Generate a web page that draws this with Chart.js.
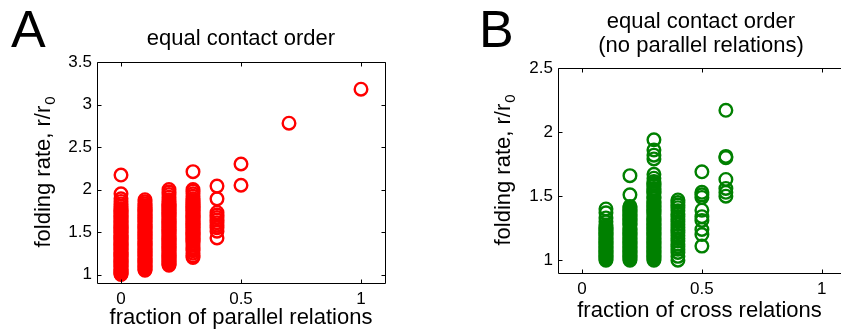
<!DOCTYPE html>
<html>
<head>
<meta charset="utf-8">
<script src="https://cdn.jsdelivr.net/npm/chart.js@4.4.0/dist/chart.umd.min.js"></script>
<style>
html, body { margin: 0; padding: 0; background: #fff; overflow: hidden; width: 841px; height: 331px; }
#wrapA { position: absolute; left: 0; top: 0; width: 420px; height: 331px; }
#wrapB { position: absolute; left: 420px; top: 0; width: 421px; height: 331px; }
</style>
</head>
<body>
<div id="wrapA"><canvas id="chartA" width="420" height="331"></canvas></div>
<div id="wrapB"><canvas id="chartB" width="421" height="331"></canvas></div>
<script>
// tick labels
const xTicks = [0, 0.5, 1];
const yTicksA = [1, 1.5, 2, 2.5, 3, 3.5];
const yTicksB = [1, 1.5, 2, 2.5];

// panel A : fraction of parallel relations -> folding rate (red)
const xColsA = [0, 0.1, 0.2, 0.3, 0.4, 0.5, 0.7, 1];
const rateA0 = [1.00, 1.01, 1.02, 1.035, 1.05, 1.06, 1.075, 1.09, 1.10, 1.115, 1.13, 1.14, 1.155, 1.17, 1.18, 1.195, 1.21, 1.22, 1.235, 1.25, 1.26, 1.275, 1.29, 1.30, 1.315, 1.33, 1.34, 1.355, 1.37, 1.38, 1.395, 1.41, 1.42, 1.435, 1.45, 1.46, 1.475, 1.49, 1.50, 1.515, 1.53, 1.54, 1.555, 1.57, 1.58, 1.595, 1.61, 1.625, 1.64, 1.655, 1.67, 1.685, 1.70, 1.715, 1.73, 1.745, 1.76, 1.775, 1.80, 1.83, 1.86, 1.89, 1.95, 2.17];
const rateA1 = [1.05, 1.06, 1.07, 1.085, 1.10, 1.11, 1.125, 1.14, 1.15, 1.165, 1.18, 1.19, 1.205, 1.22, 1.23, 1.245, 1.26, 1.27, 1.285, 1.30, 1.31, 1.325, 1.34, 1.35, 1.365, 1.38, 1.39, 1.405, 1.42, 1.43, 1.445, 1.46, 1.47, 1.485, 1.50, 1.51, 1.525, 1.54, 1.55, 1.565, 1.58, 1.59, 1.605, 1.62, 1.63, 1.645, 1.66, 1.67, 1.685, 1.70, 1.71, 1.725, 1.74, 1.75, 1.765, 1.78, 1.795, 1.81, 1.83, 1.855, 1.88];
const rateA2 = [1.11, 1.12, 1.13, 1.145, 1.16, 1.17, 1.185, 1.20, 1.21, 1.225, 1.24, 1.25, 1.265, 1.28, 1.29, 1.305, 1.32, 1.33, 1.345, 1.36, 1.37, 1.385, 1.40, 1.41, 1.425, 1.44, 1.45, 1.465, 1.48, 1.49, 1.505, 1.52, 1.53, 1.545, 1.56, 1.57, 1.585, 1.60, 1.61, 1.625, 1.64, 1.65, 1.665, 1.68, 1.69, 1.705, 1.72, 1.73, 1.745, 1.76, 1.77, 1.785, 1.80, 1.81, 1.825, 1.84, 1.86, 1.88, 1.91, 1.94, 1.97, 2.00];
const rateA3 = [1.20, 1.22, 1.25, 1.28, 1.30, 1.32, 1.345, 1.37, 1.39, 1.40, 1.415, 1.43, 1.44, 1.455, 1.47, 1.48, 1.495, 1.51, 1.52, 1.535, 1.55, 1.56, 1.575, 1.59, 1.60, 1.615, 1.63, 1.64, 1.655, 1.67, 1.68, 1.695, 1.71, 1.72, 1.735, 1.75, 1.76, 1.775, 1.79, 1.80, 1.815, 1.83, 1.84, 1.855, 1.87, 1.89, 1.92, 1.95, 1.98, 2.00, 2.21];
const rateA4 = [2.04, 1.89, 1.73, 1.70, 1.67, 1.64, 1.61, 1.58, 1.55, 1.51, 1.43];
const rateA5 = [2.30, 2.05];
const rateA7 = [2.78];
const rateA10 = [3.18];
const ratesA = [rateA0, rateA1, rateA2, rateA3, rateA4, rateA5, rateA7, rateA10];

// panel B : fraction of cross relations -> folding rate (green)
const xColsB = [0.1, 0.2, 0.3, 0.4, 0.5, 0.6];
const rateB1 = [1.00, 1.01, 1.02, 1.03, 1.04, 1.05, 1.06, 1.07, 1.08, 1.09, 1.10, 1.11, 1.12, 1.13, 1.14, 1.15, 1.16, 1.17, 1.18, 1.19, 1.20, 1.21, 1.22, 1.23, 1.24, 1.25, 1.26, 1.275, 1.30, 1.33, 1.37, 1.40];
const rateB2 = [1.00, 1.01, 1.02, 1.03, 1.04, 1.05, 1.06, 1.07, 1.08, 1.09, 1.10, 1.11, 1.12, 1.13, 1.14, 1.15, 1.16, 1.17, 1.18, 1.19, 1.20, 1.21, 1.22, 1.23, 1.24, 1.25, 1.27, 1.28, 1.29, 1.30, 1.31, 1.32, 1.33, 1.34, 1.35, 1.36, 1.37, 1.38, 1.39, 1.40, 1.41, 1.42, 1.51, 1.66];
const rateB3 = [1.00, 1.01, 1.02, 1.03, 1.04, 1.05, 1.06, 1.07, 1.08, 1.09, 1.10, 1.11, 1.12, 1.13, 1.14, 1.15, 1.16, 1.17, 1.18, 1.19, 1.20, 1.21, 1.22, 1.23, 1.24, 1.25, 1.26, 1.27, 1.28, 1.29, 1.30, 1.31, 1.32, 1.33, 1.34, 1.36, 1.37, 1.38, 1.39, 1.40, 1.41, 1.42, 1.43, 1.44, 1.45, 1.46, 1.48, 1.49, 1.50, 1.52, 1.53, 1.54, 1.55, 1.56, 1.58, 1.59, 1.60, 1.615, 1.64, 1.67, 1.79, 1.82, 1.86, 1.94];
const rateB4 = [1.47, 1.45, 1.43, 1.41, 1.385, 1.36, 1.34, 1.32, 1.30, 1.28, 1.255, 1.235, 1.215, 1.19, 1.17, 1.15, 1.125, 1.105, 1.085, 1.06, 1.03, 1.00];
const rateB5 = [1.69, 1.53, 1.51, 1.49, 1.39, 1.34, 1.31, 1.24, 1.20, 1.11];
const rateB6 = [2.17, 1.81, 1.80, 1.63, 1.56, 1.53, 1.50];
const ratesB = [rateB1, rateB2, rateB3, rateB4, rateB5, rateB6];

const fontFamily = "'Liberation Sans', Arial, Helvetica, sans-serif";
Chart.defaults.font.family = fontFamily;
Chart.defaults.color = '#000';

function toPoints(xs, cols) {
    return xs.flatMap((x, i) => cols[i].map(v => ({ x: x, y: v })));
}

// cadre, graduations intérieures, lettre du panneau, titre et label y avec indice
function framePlugin(spec) {
    return {
        id: 'frame',
        afterDraw(chart) {
            const ctx = chart.ctx;
            const a = chart.chartArea;
            const xs = chart.scales.x, ys = chart.scales.y;
            ctx.save();
            ctx.strokeStyle = '#000';
            ctx.lineWidth = 1;
            const l = Math.round(a.left) + 0.5, r = Math.round(a.right) + 0.5;
            const t = Math.round(a.top) + 0.5, b = Math.round(a.bottom) + 0.5;
            ctx.beginPath();
            ctx.moveTo(l, t); ctx.lineTo(l, b); ctx.lineTo(r, b);
            ctx.moveTo(l, t); ctx.lineTo(r, t);
            if (spec.rightSide) { ctx.moveTo(r, t); ctx.lineTo(r, b); }
            xs.ticks.forEach(tk => {
                const px = Math.round(xs.getPixelForValue(tk.value)) + 0.5;
                ctx.moveTo(px, b); ctx.lineTo(px, b - 4);
                ctx.moveTo(px, t); ctx.lineTo(px, t + 4);
            });
            ys.ticks.forEach(tk => {
                const py = Math.round(ys.getPixelForValue(tk.value)) + 0.5;
                ctx.moveTo(l, py); ctx.lineTo(l + 4, py);
                if (spec.rightSide) { ctx.moveTo(r, py); ctx.lineTo(r - 4, py); }
            });
            ctx.stroke();

            ctx.fillStyle = '#000';
            ctx.textBaseline = 'alphabetic';
            ctx.textAlign = 'left';
            ctx.font = '52px ' + fontFamily;
            ctx.fillText(spec.letter, spec.letterX, 47);

            ctx.textAlign = 'center';
            ctx.font = '22px ' + fontFamily;
            const cx = a.left + spec.titleCenter;
            spec.title.forEach((line, i) => ctx.fillText(line, cx, spec.titleY[i]));

            // label y : "folding rate, r/r" + indice 0
            ctx.translate(spec.yLabelX, (a.top + a.bottom) / 2);
            ctx.rotate(-Math.PI / 2);
            ctx.textAlign = 'left';
            ctx.font = '22px ' + fontFamily;
            const w1 = ctx.measureText(spec.yLabel).width;
            ctx.font = '15px ' + fontFamily;
            const w2 = ctx.measureText(spec.ySub).width;
            const start = -(w1 + w2) / 2;
            ctx.font = '22px ' + fontFamily;
            ctx.fillText(spec.yLabel, start, 0);
            ctx.font = '15px ' + fontFamily;
            ctx.fillText(spec.ySub, start + w1 + 1, 5);
            ctx.restore();
        }
    };
}

function makeChart(canvasId, spec) {
    return new Chart(document.getElementById(canvasId), {
        type: 'scatter',
        data: {
            datasets: [{
                data: spec.points,
                borderColor: spec.color,
                backgroundColor: 'rgba(0,0,0,0)',
                borderWidth: 2.4,
                pointRadius: 6.3,
                pointHoverRadius: 6.3
            }]
        },
        options: {
            responsive: false,
            animation: false,
            devicePixelRatio: 1,
            layout: { padding: spec.padding, autoPadding: false },
            plugins: { legend: { display: false }, tooltip: { enabled: false } },
            scales: {
                x: {
                    type: 'linear',
                    min: -0.1,
                    max: spec.xMax,
                    grid: { display: false, drawTicks: false },
                    border: { display: false },
                    afterBuildTicks: s => { s.ticks = xTicks.map(v => ({ value: v })); },
                    afterFit: s => { s.height = spec.xAxisHeight; },
                    ticks: { font: { size: 17 }, color: '#000', padding: 6, maxRotation: 0, callback: v => String(v) },
                    title: { display: true, text: spec.xLabel, font: { size: 22 }, color: '#000', padding: { top: 0, bottom: spec.xTitlePad } }
                },
                y: {
                    type: 'linear',
                    min: 0.9,
                    max: spec.yMax,
                    grid: { display: false, drawTicks: false },
                    border: { display: false },
                    afterBuildTicks: s => { s.ticks = spec.yTicks.map(v => ({ value: v })); },
                    afterFit: s => { s.width = spec.yAxisWidth; },
                    ticks: { font: { size: 17 }, color: '#000', padding: 5, callback: v => String(v) }
                }
            }
        },
        plugins: [framePlugin(spec)]
    });
}

makeChart('chartA', {
    points: toPoints(xColsA, ratesA),
    color: '#ff0000',
    padding: { left: 0, top: 62, right: 35, bottom: 0 },
    yAxisWidth: 97,
    xAxisHeight: 48,
    xTitlePad: 0,
    xMax: 1.1,
    yMax: 3.5,
    yTicks: yTicksA,
    xLabel: 'fraction of parallel relations',
    letter: 'A', letterX: 11,
    title: ['equal contact order'], titleY: [45], titleCenter: 144,
    rightSide: true,
    yLabel: 'folding rate, r/r', ySub: '0', yLabelX: 50
});

// le panneau B est coupé au bord droit de l'image
makeChart('chartB', {
    points: toPoints(xColsB, ratesB),
    color: '#008000',
    padding: { left: 0, top: 68, right: 0, bottom: 0 },
    yAxisWidth: 138,
    xAxisHeight: 58,
    xTitlePad: 7,
    xMax: 1.08,
    yMax: 2.5,
    yTicks: yTicksB,
    xLabel: 'fraction of cross relations',
    letter: 'B', letterX: 59,
    title: ['equal contact order', '(no parallel relations)'], titleY: [28, 52], titleCenter: 143,
    rightSide: false,
    yLabel: 'folding rate, r/r', ySub: '0', yLabelX: 90
});
</script>
</body>
</html>
